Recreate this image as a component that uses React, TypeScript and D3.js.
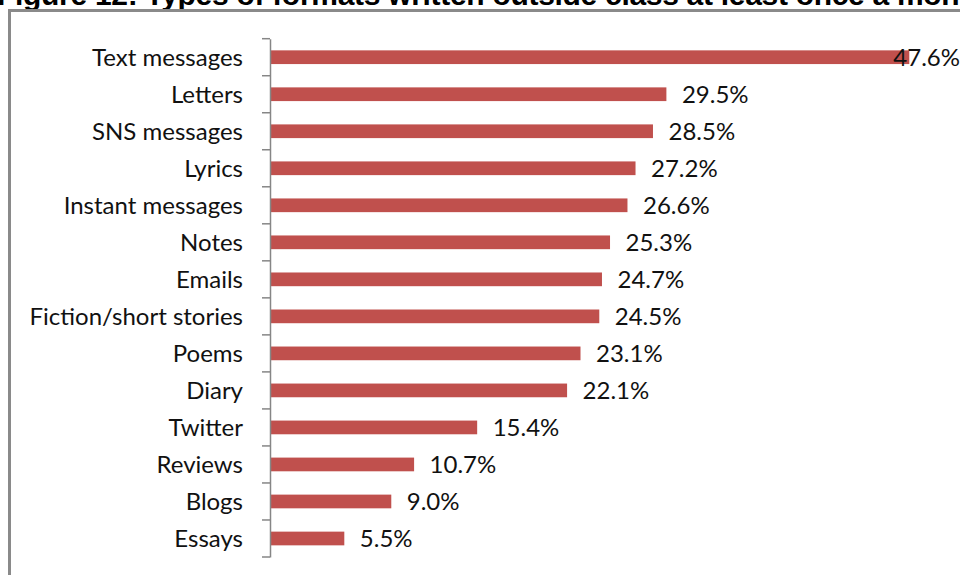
import React, { useRef, useEffect } from 'react';
import * as d3 from 'd3';

// Chart data
const categories = [
  'Text messages',
  'Letters',
  'SNS messages',
  'Lyrics',
  'Instant messages',
  'Notes',
  'Emails',
  'Fiction/short stories',
  'Poems',
  'Diary',
  'Twitter',
  'Reviews',
  'Blogs',
  'Essays',
];
const values = [47.6, 29.5, 28.5, 27.2, 26.6, 25.3, 24.7, 24.5, 23.1, 22.1, 15.4, 10.7, 9.0, 5.5];
const title = 'Figure 12: Types of formats written outside class at least once a month';

const W = 960;
const H = 575;
const font = 'Lato, "Open Sans", sans-serif';

export default function App() {
  const svgRef = useRef(null);

  useEffect(() => {
    document.body.style.margin = '0';
    const svg = d3.select(svgRef.current);
    svg.selectAll('*').remove();

    // title (cut off at the top like the scan)
    svg
      .append('text')
      .attr('x', -3)
      .attr('y', 5)
      .attr('font-family', '"Liberation Sans", Arial, sans-serif')
      .attr('font-weight', 'bold')
      .attr('font-size', 30)
      .attr('letter-spacing', -0.3)
      .attr('fill', '#000')
      .text(title);

    // chart frame
    svg
      .append('rect')
      .attr('x', 9.5)
      .attr('y', 10.5)
      .attr('width', 1000)
      .attr('height', 600)
      .attr('fill', 'none')
      .attr('stroke', '#8a8a8a')
      .attr('stroke-width', 3);

    const axisX = 270;
    const xScale = d3.scaleLinear().domain([0, 50]).range([axisX, axisX + 50 * 13.42]);
    const yScale = d3.scaleBand().domain(categories).range([38.7, 557]).padding(0);
    const barH = yScale.bandwidth() / 2.7;

    const g = svg.append('g');

    // bars
    g.selectAll('rect.bar')
      .data(values)
      .join('rect')
      .attr('class', 'bar')
      .attr('x', axisX + 0.5)
      .attr('y', (d, i) => yScale(categories[i]) + yScale.bandwidth() / 2 - barH / 2)
      .attr('width', (d) => xScale(d) - axisX)
      .attr('height', barH)
      .attr('fill', '#C0504D');

    // category axis
    const yAxis = d3.axisLeft(yScale).tickSize(0).tickPadding(27).tickSizeOuter(0);
    const axisG = g.append('g').attr('transform', `translate(${axisX},0)`).call(yAxis);
    axisG.select('.domain').attr('stroke', '#868686').attr('stroke-width', 1.5);
    axisG
      .selectAll('.tick text')
      .attr('font-family', font)
      .attr('font-size', 24)
      .attr('fill', '#111')
      .attr('dy', '0.36em');

    // tick marks on band boundaries
    const bounds = categories.map((c) => yScale(c)).concat([yScale.range()[1]]);
    g.selectAll('line.tk')
      .data(bounds)
      .join('line')
      .attr('class', 'tk')
      .attr('x1', axisX - 8)
      .attr('x2', axisX)
      .attr('y1', (d) => d)
      .attr('y2', (d) => d)
      .attr('stroke', '#868686')
      .attr('stroke-width', 1.5);

    // value labels
    g.selectAll('text.val')
      .data(values)
      .join('text')
      .attr('class', 'val')
      .attr('font-family', font)
      .attr('font-size', 24)
      .attr('fill', '#111')
      .attr('y', (d, i) => yScale(categories[i]) + yScale.bandwidth() / 2)
      .attr('dy', '0.36em')
      .text((d) => `${d.toFixed(1)}%`)
      .attr('x', function (d) {
        const len = (this as SVGTextElement).getComputedTextLength();
        return Math.min(xScale(d) + 16, W - len);
      });
  }, []);

  return (
    <svg
      ref={svgRef}
      width={W}
      height={H}
      style={{ display: 'block', position: 'absolute', left: 0, top: 0, background: '#fff' }}
    />
  );
}
